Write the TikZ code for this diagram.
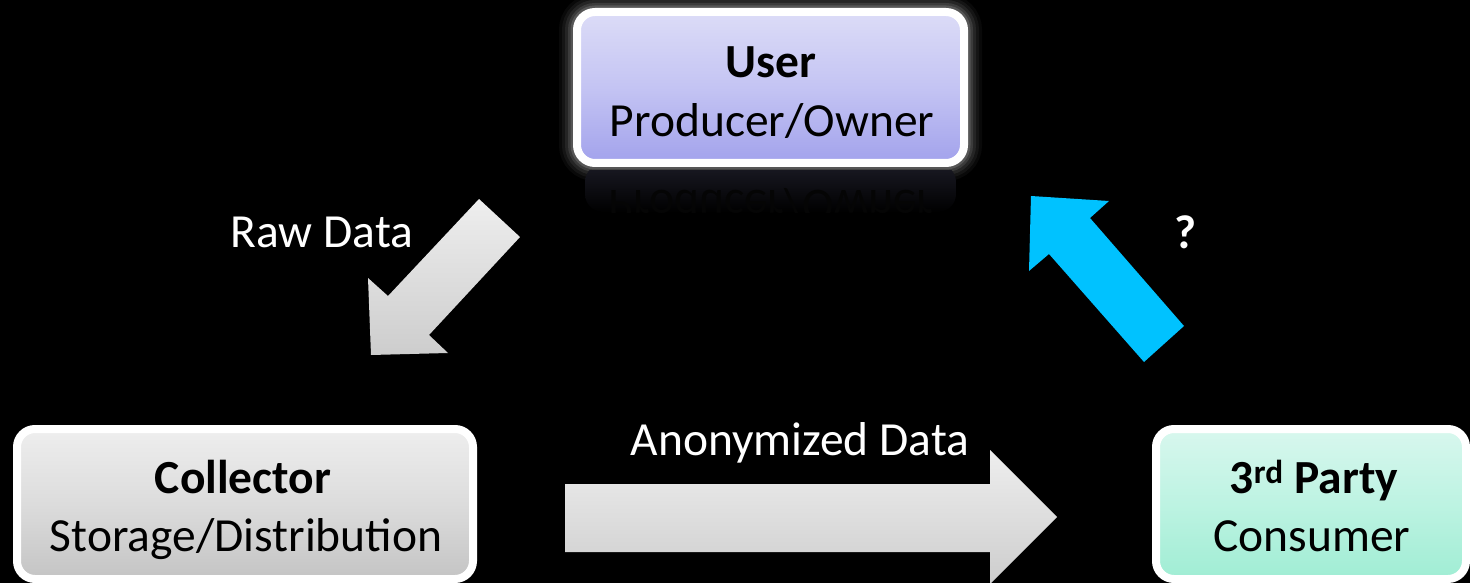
\documentclass[tikz,border=0pt]{standalone}
\usepackage{fontspec}
\setmainfont{Carlito}
\usepackage{graphicx}
\definecolor{uTop}{HTML}{DCDCF7}
\definecolor{uMid}{HTML}{C4C4F3}
\definecolor{uBot}{HTML}{A2A2EC}
\definecolor{cTop}{HTML}{EEEEEE}
\definecolor{cMid}{HTML}{DCDCDC}
\definecolor{cBot}{HTML}{C4C4C4}
\definecolor{pTop}{HTML}{D8F7EE}
\definecolor{pMid}{HTML}{BDF3E2}
\definecolor{pBot}{HTML}{A0EDD4}
\definecolor{qBlue}{HTML}{00C2FF}
\definecolor{aTop}{HTML}{EEEEEE}
\definecolor{aBot}{HTML}{CDCDCD}
\definecolor{reflTop}{HTML}{1A1A24}
\definecolor{reflText}{HTML}{050505}
\begin{document}
\begin{tikzpicture}[x=1pt,y=-1pt,
  lbl/.style={text=white, font=\fontsize{47.5}{56}\selectfont, anchor=base, inner sep=0pt},
  boxtxt/.style={text=black, font=\fontsize{47.5}{56}\selectfont, anchor=base, inner sep=0pt},
  boxframe/.style={draw=white, line width=8pt, rounded corners=18pt},
  glow/.style={draw=white, rounded corners=18pt},
]
\fill[black] (0,0) rectangle (1470,583);
\useasboundingbox (0,0) rectangle (1470,583);

% glow around the user box
\foreach \w/\o in {36/0.035, 30/0.05, 24/0.07, 18/0.1, 13/0.14}
  \draw[glow, line width=\w pt, opacity=\o] (577,12) rectangle (964,163);

% reflection of the user box
\begin{scope}
  \clip (570,171) rectangle (975,212);
  \shade[top color=reflTop, bottom color=black, rounded corners=18pt] (585,164) rectangle (956,212);
  \node[boxtxt, text=reflText] (userRefl) at (771,190) {\scalebox{1}[-1]{Producer/Owner}};
\end{scope}

% boxes
\node[boxframe, top color=uTop, bottom color=uBot, middle color=uMid,
      minimum width=387pt, minimum height=151pt, inner sep=0pt] (user) at (770.5,87.5) {};
\node[boxframe, top color=cTop, bottom color=cBot, middle color=cMid,
      minimum width=456pt, minimum height=150pt, inner sep=0pt] (collector) at (245,504) {};
\node[boxframe, top color=pTop, bottom color=pBot, middle color=pMid,
      minimum width=310pt, minimum height=150pt, inner sep=0pt] (party) at (1311,504) {};

% box texts
\node[boxtxt] (userA) at (771,78) {\textbf{User}};
\node[boxtxt] (userB) at (772,137) {Producer/Owner};
\node[boxtxt] (collA) at (243,493) {\textbf{Collector}};
\node[boxtxt] (collB) at (246,551) {Storage/Distribution};
\node[boxtxt] (partyA) at (1314,493) {\textbf{3\textsuperscript{rd} Party}};
\node[boxtxt] (partyB) at (1312,551) {Consumer};

% block arrows
\coordinate (rawTip) at (371,355);
\shade[top color=aTop, bottom color=aBot]
  (479,199) -- (520,237) -- (429,335) -- (448,353) -- (rawTip)
  -- (368,278) -- (388,296) -- cycle;

\coordinate (anonTip) at (1057,517);
\shade[top color=aTop, bottom color=aBot]
  (565,484) -- (990,484) -- (990,450) -- (anonTip) -- (990,584)
  -- (990,552) -- (565,552) -- cycle;

\coordinate (qTip) at (1031,196);
\fill[qBlue]
  (1144,362) -- (1184,326) -- (1090,218) -- (1109,201) -- (qTip)
  -- (1029,271) -- (1049,254) -- cycle;

% arrow labels
\node[lbl] (rawLbl) at (322,247) {Raw Data};
\node[lbl] (anonLbl) at (800,455) {Anonymized Data};
\node[lbl] (qLbl) at (1185,248) {\textbf{?}};
\end{tikzpicture}
\end{document}
